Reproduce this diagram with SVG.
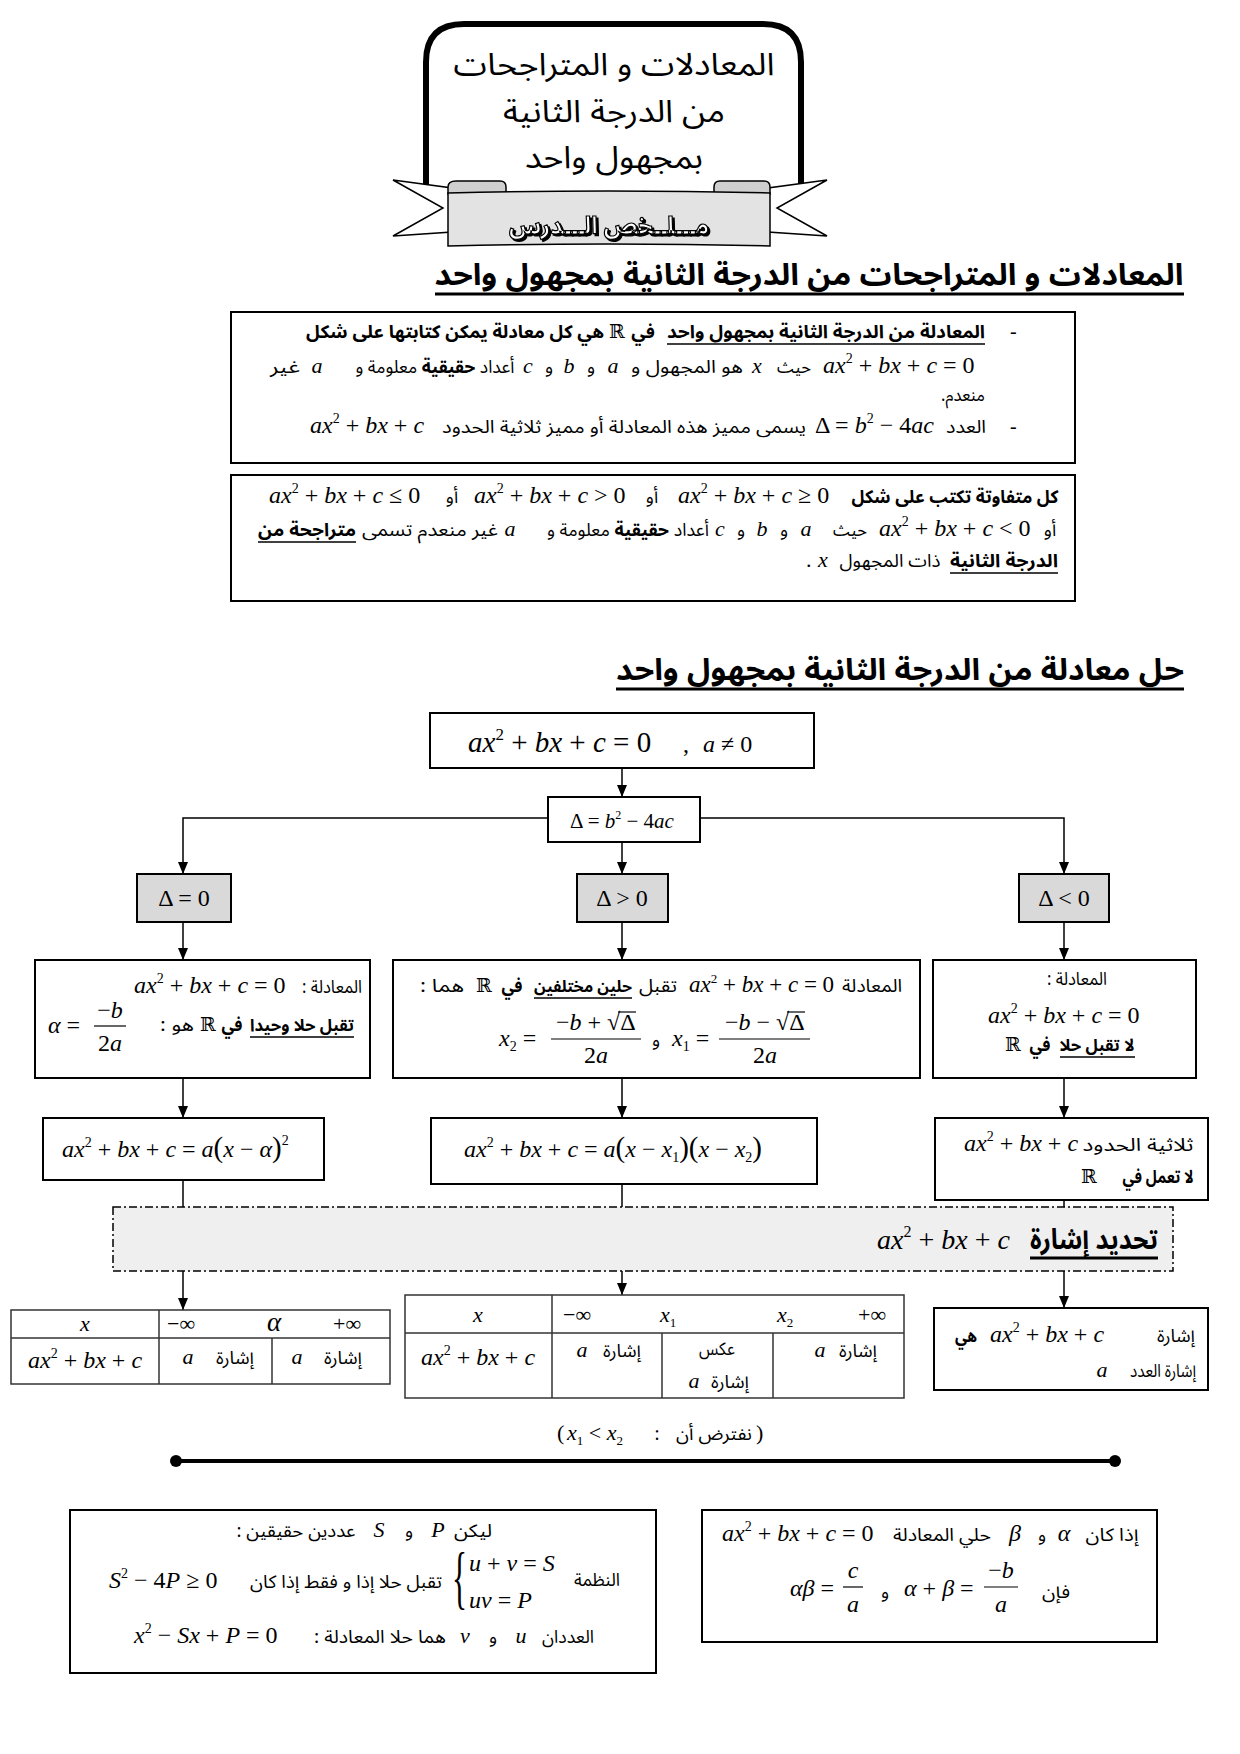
<svg xmlns="http://www.w3.org/2000/svg" width="1240" height="1754" viewBox="0 0 1240 1754">
<defs>
<style>
text{fill:#000}
.ar{font-family:"Noto Sans Arabic","Noto Naskh Arabic","DejaVu Sans",sans-serif;direction:rtl;text-anchor:middle;font-size:18px}
.b{font-weight:bold}
.m{font-family:"Liberation Serif","Times New Roman",serif;font-size:24px}
.i{font-style:italic}
.v{font-family:"Liberation Serif","Times New Roman",serif;font-style:italic;font-size:22px;text-anchor:middle}
.R{font-family:"DejaVu Serif",serif;font-size:19px;text-anchor:middle}
.box{fill:#fff;stroke:#000;stroke-width:2}
.gbox{fill:#d9d9d9;stroke:#000;stroke-width:2}
.tb{fill:#fff;stroke:#333;stroke-width:1.5}
.tl{stroke:#333;stroke-width:1.5}
.c{stroke:#000;stroke-width:1.5;fill:none}
.ul{stroke:#000;stroke-width:1.5}
.fr{stroke:#000;stroke-width:1.2}
</style>
<marker id="ah" viewBox="0 0 12 10" refX="12" refY="5" markerWidth="12" markerHeight="10" markerUnits="userSpaceOnUse" orient="auto"><path d="M0,0 L12,5 L0,10 z" fill="#000"/></marker>
<filter id="shadow" x="-5%" y="-20%" width="110%" height="140%"><feDropShadow dx="2" dy="2" stdDeviation="0" flood-color="#000" flood-opacity="1"/></filter>
</defs>
<rect width="1240" height="1754" fill="#fff"/>

<g id="title">
<path d="M426,192 L426,62 Q426,24 464,24 L763,24 Q801,24 801,62 L801,192" fill="#fff" stroke="#000" stroke-width="6"/>
<text class="ar" x="614" y="75" style="font-size:31px" textLength="321" lengthAdjust="spacingAndGlyphs">المعادلات و المتراجحات</text>
<text class="ar" x="614" y="122" style="font-size:31px" textLength="222" lengthAdjust="spacingAndGlyphs">من الدرجة الثانية</text>
<text class="ar" x="614" y="168" style="font-size:31px" textLength="178" lengthAdjust="spacingAndGlyphs">بمجهول واحد</text>
</g>

<g id="ribbon">
<polygon points="393,180 452,188 452,232 393,236 443,208" fill="#fff" stroke="#000" stroke-width="1.5"/>
<polygon points="827,180 768,188 768,232 827,236 777,208" fill="#fff" stroke="#000" stroke-width="1.5"/>
<path d="M448,194 L448,187 Q448,181 456,181 L500,181 Q506,181 506,187 L506,194 Z" fill="#cfcfcf" stroke="#000" stroke-width="1.5"/>
<path d="M714,194 L714,187 Q714,181 720,181 L764,181 Q770,181 770,187 L770,194 Z" fill="#cfcfcf" stroke="#000" stroke-width="1.5"/>
<path d="M448,193 Q609,189 770,193 L770,246 Q609,242 448,246 Z" fill="#e3e3e3" stroke="#000" stroke-width="1.5"/>
<text class="ar b" x="609" y="234" style="font-size:24px;fill:#fff;stroke:#000;stroke-width:1.2" filter="url(#shadow)" textLength="200" lengthAdjust="spacingAndGlyphs">مـــلــخص الـــدرس</text>
</g>

<g id="heading1">
<text class="ar b" x="809" y="285" style="font-size:30px" textLength="749" lengthAdjust="spacingAndGlyphs">المعادلات و المتراجحات من الدرجة الثانية بمجهول واحد</text>
<line x1="435" y1="294" x2="1184" y2="294" stroke="#000" stroke-width="3"/>
</g>

<g id="definition-equation">
<rect class="box" x="231" y="312" width="844" height="151"/>
<text class="m" x="1010" y="338" style="font-size:20px">-</text>
<text class="ar b" x="826" y="338" textLength="318" lengthAdjust="spacingAndGlyphs">المعادلة من الدرجة الثانية بمجهول واحد</text>
<line class="ul" x1="667" y1="344" x2="985" y2="344"/>
<text class="ar b" x="643" y="338">في</text>
<text class="R" x="617" y="338">ℝ</text>
<text class="ar b" x="455" y="338" textLength="298" lengthAdjust="spacingAndGlyphs">هي كل معادلة يمكن كتابتها على شكل</text>
<text class="m" x="823" y="373"><tspan class="i">ax</tspan><tspan font-size="14" dy="-10">2</tspan><tspan dy="10"> + </tspan><tspan class="i">bx</tspan> + <tspan class="i">c</tspan> = 0</text>
<text class="ar" x="794" y="373" textLength="34" lengthAdjust="spacingAndGlyphs">حيث</text>
<text class="v" x="757" y="373">x</text>
<text class="ar" x="687" y="373" textLength="112" lengthAdjust="spacingAndGlyphs">هو المجهول و</text>
<text class="v" x="613" y="373">a</text>
<text class="ar" x="591" y="373">و</text>
<text class="v" x="569" y="373">b</text>
<text class="ar" x="549" y="373">و</text>
<text class="v" x="528" y="373">c</text>
<text class="ar" x="435" y="373" textLength="159" lengthAdjust="spacingAndGlyphs">أعداد <tspan class="b">حقيقية</tspan> معلومة و</text>
<text class="v" x="317" y="373">a</text>
<text class="ar" x="285" y="373" textLength="30" lengthAdjust="spacingAndGlyphs">غير</text>
<text class="ar" x="963" y="401" textLength="44" lengthAdjust="spacingAndGlyphs">منعدم.</text>
<text class="m" x="1010" y="433" style="font-size:20px">-</text>
<text class="ar" x="966" y="433" textLength="40" lengthAdjust="spacingAndGlyphs">العدد</text>
<text class="m" x="815" y="433">Δ = <tspan class="i">b</tspan><tspan font-size="14" dy="-10">2</tspan><tspan dy="10"> − 4</tspan><tspan class="i">ac</tspan></text>
<text class="ar" x="624" y="433" textLength="364" lengthAdjust="spacingAndGlyphs">يسمى مميز هذه المعادلة أو مميز ثلاثية الحدود</text>
<text class="m" x="310" y="433"><tspan class="i">ax</tspan><tspan font-size="14" dy="-10">2</tspan><tspan dy="10"> + </tspan><tspan class="i">bx</tspan> + <tspan class="i">c</tspan></text>
</g>

<g id="definition-inequation">
<rect class="box" x="231" y="475" width="844" height="126"/>
<text class="ar b" x="955" y="503" textLength="207" lengthAdjust="spacingAndGlyphs">كل متفاوتة تكتب على شكل</text>
<text class="m" x="678" y="503"><tspan class="i">ax</tspan><tspan font-size="14" dy="-10">2</tspan><tspan dy="10"> + </tspan><tspan class="i">bx</tspan> + <tspan class="i">c</tspan> ≥ 0</text>
<text class="ar" x="652" y="503">أو</text>
<text class="m" x="474" y="503"><tspan class="i">ax</tspan><tspan font-size="14" dy="-10">2</tspan><tspan dy="10"> + </tspan><tspan class="i">bx</tspan> + <tspan class="i">c</tspan> &gt; 0</text>
<text class="ar" x="452" y="503">أو</text>
<text class="m" x="269" y="503"><tspan class="i">ax</tspan><tspan font-size="14" dy="-10">2</tspan><tspan dy="10"> + </tspan><tspan class="i">bx</tspan> + <tspan class="i">c</tspan> ≤ 0</text>
<text class="ar" x="1050" y="536">أو</text>
<text class="m" x="879" y="536"><tspan class="i">ax</tspan><tspan font-size="14" dy="-10">2</tspan><tspan dy="10"> + </tspan><tspan class="i">bx</tspan> + <tspan class="i">c</tspan> &lt; 0</text>
<text class="ar" x="850" y="536" textLength="34" lengthAdjust="spacingAndGlyphs">حيث</text>
<text class="v" x="806" y="536">a</text>
<text class="ar" x="784" y="536">و</text>
<text class="v" x="762" y="536">b</text>
<text class="ar" x="741" y="536">و</text>
<text class="v" x="720" y="536">c</text>
<text class="ar" x="628" y="536" textLength="162" lengthAdjust="spacingAndGlyphs">أعداد <tspan class="b">حقيقية</tspan> معلومة و</text>
<text class="v" x="510" y="536">a</text>
<text class="ar" x="430" y="536" textLength="136" lengthAdjust="spacingAndGlyphs">غير منعدم تسمى</text>
<text class="ar b" x="307" y="536" textLength="98" lengthAdjust="spacingAndGlyphs">متراجحة من</text>
<line class="ul" x1="258" y1="542" x2="356" y2="542"/>
<text class="ar b" x="1004" y="567" textLength="108" lengthAdjust="spacingAndGlyphs">الدرجة الثانية</text>
<line class="ul" x1="950" y1="573" x2="1058" y2="573"/>
<text class="ar" x="890" y="567" textLength="101" lengthAdjust="spacingAndGlyphs">ذات المجهول</text>
<text class="v" x="823" y="567">x</text>
<text class="m" x="806" y="567" style="font-size:22px">.</text>
</g>

<g id="heading2">
<text class="ar b" x="900" y="680" style="font-size:30px" textLength="568" lengthAdjust="spacingAndGlyphs">حل معادلة من الدرجة الثانية بمجهول واحد</text>
<line x1="616" y1="689" x2="1184" y2="689" stroke="#000" stroke-width="3"/>
</g>

<g id="connectors" class="c">
<path d="M622,768 V797" marker-end="url(#ah)"/>
<path d="M548,818 H183 V874" marker-end="url(#ah)"/>
<path d="M700,818 H1064 V874" marker-end="url(#ah)"/>
<path d="M622,842 V874" marker-end="url(#ah)"/>
<path d="M183,922 V960" marker-end="url(#ah)"/>
<path d="M622,922 V960" marker-end="url(#ah)"/>
<path d="M1064,922 V960" marker-end="url(#ah)"/>
<path d="M183,1078 V1118" marker-end="url(#ah)"/>
<path d="M622,1078 V1118" marker-end="url(#ah)"/>
<path d="M1064,1078 V1118" marker-end="url(#ah)"/>
<path d="M183,1180 V1207"/>
<path d="M622,1184 V1207"/>
<path d="M1064,1200 V1207"/>
<path d="M183,1271 V1310" marker-end="url(#ah)"/>
<path d="M622,1271 V1295" marker-end="url(#ah)"/>
<path d="M1064,1271 V1308" marker-end="url(#ah)"/>
</g>

<g id="equation">
<rect class="box" x="430" y="713" width="384" height="55"/>
<text class="m" x="468" y="752" style="font-size:29px"><tspan class="i">ax</tspan><tspan font-size="17" dy="-12">2</tspan><tspan dy="12"> + </tspan><tspan class="i">bx</tspan> + <tspan class="i">c</tspan> = 0</text>
<text class="m" x="683" y="752">,</text>
<text class="m" x="703" y="752"><tspan class="i">a</tspan> ≠ 0</text>
</g>

<g id="discriminant">
<rect class="box" x="548" y="797" width="152" height="45"/>
<text class="m" x="622" y="828" style="font-size:21px;text-anchor:middle">Δ = <tspan class="i">b</tspan><tspan font-size="12" dy="-9">2</tspan><tspan dy="9"> − 4</tspan><tspan class="i">ac</tspan></text>
</g>

<g id="delta-zero">
<rect class="gbox" x="137" y="874" width="94" height="48"/>
<text class="m" x="184" y="906" text-anchor="middle">Δ = 0</text>
</g>
<g id="delta-positive">
<rect class="gbox" x="577" y="874" width="91" height="48"/>
<text class="m" x="622" y="906" text-anchor="middle">Δ &gt; 0</text>
</g>
<g id="delta-negative">
<rect class="gbox" x="1019" y="874" width="90" height="48"/>
<text class="m" x="1064" y="906" text-anchor="middle">Δ &lt; 0</text>
</g>

<g id="one-root">
<rect class="box" x="35" y="960" width="335" height="118"/>
<text class="ar" x="332" y="993" textLength="60" lengthAdjust="spacingAndGlyphs">المعادلة :</text>
<text class="m" x="134" y="993"><tspan class="i">ax</tspan><tspan font-size="14" dy="-10">2</tspan><tspan dy="10"> + </tspan><tspan class="i">bx</tspan> + <tspan class="i">c</tspan> = 0</text>
<text class="ar b" x="302" y="1031" style="font-size:17px" textLength="104" lengthAdjust="spacingAndGlyphs">تقبل حلا وحيدا</text>
<line class="ul" x1="250" y1="1037" x2="354" y2="1037"/>
<text class="ar b" x="232" y="1031" textLength="21" lengthAdjust="spacingAndGlyphs">في</text>
<text class="R" x="208" y="1031">ℝ</text>
<text class="ar" x="177" y="1031" textLength="34" lengthAdjust="spacingAndGlyphs">هو :</text>
<text class="m" x="48" y="1033"><tspan class="i">α</tspan> =</text>
<text class="m" x="110" y="1018" text-anchor="middle">−<tspan class="i">b</tspan></text>
<line class="fr" x1="94" y1="1026" x2="126" y2="1026"/>
<text class="m" x="110" y="1051" text-anchor="middle">2<tspan class="i">a</tspan></text>
</g>

<g id="two-roots">
<rect class="box" x="393" y="960" width="527" height="118"/>
<text class="ar" x="872" y="992" textLength="60" lengthAdjust="spacingAndGlyphs">المعادلة</text>
<text class="m" x="689" y="992" style="font-size:23px"><tspan class="i">ax</tspan><tspan font-size="13" dy="-9">2</tspan><tspan dy="9"> + </tspan><tspan class="i">bx</tspan> + <tspan class="i">c</tspan> = 0</text>
<text class="ar" x="658" y="992" textLength="38" lengthAdjust="spacingAndGlyphs">تقبل</text>
<text class="ar b" x="583" y="992" style="font-size:16px" textLength="98" lengthAdjust="spacingAndGlyphs">حلين مختلفين</text>
<line class="ul" x1="534" y1="998" x2="632" y2="998"/>
<text class="ar b" x="512" y="992" textLength="21" lengthAdjust="spacingAndGlyphs">في</text>
<text class="R" x="484" y="992">ℝ</text>
<text class="ar" x="442" y="992" textLength="44" lengthAdjust="spacingAndGlyphs">هما :</text>
<text class="m" x="499" y="1046"><tspan class="i">x</tspan><tspan font-size="14" dy="5">2</tspan><tspan dy="-5"> =</tspan></text>
<text class="m" x="556" y="1030">−<tspan class="i">b</tspan> + √Δ</text>
<line class="fr" x1="618" y1="1012" x2="636" y2="1012"/>
<line class="fr" x1="551" y1="1039" x2="641" y2="1039"/>
<text class="m" x="596" y="1063" text-anchor="middle">2<tspan class="i">a</tspan></text>
<text class="ar" x="656" y="1046">و</text>
<text class="m" x="672" y="1046"><tspan class="i">x</tspan><tspan font-size="14" dy="5">1</tspan><tspan dy="-5"> =</tspan></text>
<text class="m" x="725" y="1030">−<tspan class="i">b</tspan> − √Δ</text>
<line class="fr" x1="787" y1="1012" x2="805" y2="1012"/>
<line class="fr" x1="719" y1="1039" x2="810" y2="1039"/>
<text class="m" x="765" y="1063" text-anchor="middle">2<tspan class="i">a</tspan></text>
</g>

<g id="no-root">
<rect class="box" x="933" y="960" width="263" height="118"/>
<text class="ar" x="1077" y="985" textLength="60" lengthAdjust="spacingAndGlyphs">المعادلة :</text>
<text class="m" x="988" y="1023"><tspan class="i">ax</tspan><tspan font-size="14" dy="-10">2</tspan><tspan dy="10"> + </tspan><tspan class="i">bx</tspan> + <tspan class="i">c</tspan> = 0</text>
<text class="ar b" x="1097" y="1051" style="font-size:17px" textLength="75" lengthAdjust="spacingAndGlyphs">لا تقبل حلا</text>
<line class="ul" x1="1060" y1="1057" x2="1135" y2="1057"/>
<text class="ar b" x="1040" y="1051" textLength="21" lengthAdjust="spacingAndGlyphs">في</text>
<text class="R" x="1013" y="1051">ℝ</text>
</g>

<g id="factor-one">
<rect class="box" x="43" y="1118" width="281" height="62"/>
<text class="m" x="62" y="1157"><tspan class="i">ax</tspan><tspan font-size="14" dy="-10">2</tspan><tspan dy="10"> + </tspan><tspan class="i">bx</tspan> + <tspan class="i">c</tspan> = <tspan class="i">a</tspan><tspan font-size="29">(</tspan><tspan class="i">x</tspan> − <tspan class="i">α</tspan><tspan font-size="29">)</tspan><tspan font-size="14" dy="-12">2</tspan></text>
</g>

<g id="factor-two">
<rect class="box" x="431" y="1118" width="386" height="66"/>
<text class="m" x="464" y="1157"><tspan class="i">ax</tspan><tspan font-size="14" dy="-10">2</tspan><tspan dy="10"> + </tspan><tspan class="i">bx</tspan> + <tspan class="i">c</tspan> = <tspan class="i">a</tspan><tspan font-size="29">(</tspan><tspan class="i">x</tspan> − <tspan class="i">x</tspan><tspan font-size="14" dy="5">1</tspan><tspan dy="-5" font-size="29">)(</tspan><tspan class="i">x</tspan> − <tspan class="i">x</tspan><tspan font-size="14" dy="5">2</tspan><tspan dy="-5" font-size="29">)</tspan></text>
</g>

<g id="no-factor">
<rect class="box" x="935" y="1118" width="273" height="82"/>
<text class="ar" x="1138" y="1151" textLength="111" lengthAdjust="spacingAndGlyphs">ثلاثية الحدود</text>
<text class="m" x="964" y="1151"><tspan class="i">ax</tspan><tspan font-size="14" dy="-10">2</tspan><tspan dy="10"> + </tspan><tspan class="i">bx</tspan> + <tspan class="i">c</tspan></text>
<text class="ar b" x="1158" y="1183" textLength="71" lengthAdjust="spacingAndGlyphs">لا تعمل في</text>
<text class="R" x="1089" y="1183">ℝ</text>
</g>

<g id="sign-header">
<rect x="113" y="1207" width="1060" height="64" fill="#efefef" stroke="#000" stroke-width="1.5" stroke-dasharray="8 3 2 3"/>
<text class="ar b" x="1094" y="1249" style="font-size:28px" textLength="128" lengthAdjust="spacingAndGlyphs">تحديد إشارة</text>
<line x1="1030" y1="1258" x2="1158" y2="1258" stroke="#000" stroke-width="3"/>
<text class="m" x="877" y="1249" style="font-size:28px"><tspan class="i">ax</tspan><tspan font-size="16" dy="-12">2</tspan><tspan dy="12"> + </tspan><tspan class="i">bx</tspan> + <tspan class="i">c</tspan></text>
</g>

<g id="sign-table-one">
<rect class="tb" x="11" y="1310" width="379" height="74"/>
<line class="tl" x1="11" y1="1338" x2="390" y2="1338"/>
<line class="tl" x1="159" y1="1310" x2="159" y2="1384"/>
<line class="tl" x1="272" y1="1338" x2="272" y2="1384"/>
<text class="v" x="85" y="1331">x</text>
<text class="m" x="167" y="1331" style="font-size:22px">−∞</text>
<text class="v" x="274" y="1331" style="font-size:27px">α</text>
<text class="m" x="333" y="1331" style="font-size:22px">+∞</text>
<text class="m" x="85" y="1368" text-anchor="middle"><tspan class="i">ax</tspan><tspan font-size="14" dy="-10">2</tspan><tspan dy="10"> + </tspan><tspan class="i">bx</tspan> + <tspan class="i">c</tspan></text>
<text class="v" x="188" y="1364">a</text>
<text class="ar" x="235" y="1364" textLength="38" lengthAdjust="spacingAndGlyphs">إشارة</text>
<text class="v" x="297" y="1364">a</text>
<text class="ar" x="343" y="1364" textLength="38" lengthAdjust="spacingAndGlyphs">إشارة</text>
</g>

<g id="sign-table-two">
<rect class="tb" x="405" y="1295" width="499" height="103"/>
<line class="tl" x1="405" y1="1333" x2="904" y2="1333"/>
<line class="tl" x1="552" y1="1295" x2="552" y2="1398"/>
<line class="tl" x1="662" y1="1333" x2="662" y2="1398"/>
<line class="tl" x1="773" y1="1333" x2="773" y2="1398"/>
<text class="v" x="478" y="1322">x</text>
<text class="m" x="563" y="1322" style="font-size:22px">−∞</text>
<text class="m" x="660" y="1322" style="font-size:22px"><tspan class="i">x</tspan><tspan font-size="13" dy="5">1</tspan></text>
<text class="m" x="777" y="1322" style="font-size:22px"><tspan class="i">x</tspan><tspan font-size="13" dy="5">2</tspan></text>
<text class="m" x="858" y="1322" style="font-size:22px">+∞</text>
<text class="m" x="478" y="1365" text-anchor="middle"><tspan class="i">ax</tspan><tspan font-size="14" dy="-10">2</tspan><tspan dy="10"> + </tspan><tspan class="i">bx</tspan> + <tspan class="i">c</tspan></text>
<text class="v" x="582" y="1357">a</text>
<text class="ar" x="622" y="1357" textLength="38" lengthAdjust="spacingAndGlyphs">إشارة</text>
<text class="ar" x="717" y="1355" textLength="36" lengthAdjust="spacingAndGlyphs">عكس</text>
<text class="v" x="694" y="1388">a</text>
<text class="ar" x="730" y="1388" textLength="38" lengthAdjust="spacingAndGlyphs">إشارة</text>
<text class="v" x="820" y="1357">a</text>
<text class="ar" x="858" y="1357" textLength="38" lengthAdjust="spacingAndGlyphs">إشارة</text>
</g>

<g id="sign-no-root">
<rect class="box" x="934" y="1308" width="274" height="82"/>
<text class="ar" x="1176" y="1342" textLength="38" lengthAdjust="spacingAndGlyphs">إشارة</text>
<text class="m" x="990" y="1342"><tspan class="i">ax</tspan><tspan font-size="14" dy="-10">2</tspan><tspan dy="10"> + </tspan><tspan class="i">bx</tspan> + <tspan class="i">c</tspan></text>
<text class="ar b" x="966" y="1342" textLength="22" lengthAdjust="spacingAndGlyphs">هي</text>
<text class="ar" x="1163" y="1377" textLength="66" lengthAdjust="spacingAndGlyphs">إشارة العدد</text>
<text class="v" x="1102" y="1377">a</text>
</g>

<g id="assumption">
<text class="m" x="557" y="1440" style="font-size:22px">(</text>
<text class="m" x="567" y="1440" style="font-size:22px"><tspan class="i">x</tspan><tspan font-size="13" dy="5">1</tspan><tspan dy="-5"> &lt; </tspan><tspan class="i">x</tspan><tspan font-size="13" dy="5">2</tspan></text>
<text class="m" x="657" y="1440" style="font-size:20px;text-anchor:middle">:</text>
<text class="ar" x="714" y="1440" textLength="76" lengthAdjust="spacingAndGlyphs">نفترض أن</text>
<text class="m" x="756" y="1440" style="font-size:22px">)</text>
</g>

<g id="separator">
<line x1="176" y1="1461" x2="1115" y2="1461" stroke="#000" stroke-width="4"/>
<circle cx="176" cy="1461" r="6" fill="#000"/>
<circle cx="1115" cy="1461" r="6" fill="#000"/>
</g>

<g id="sum-product-system">
<rect class="box" x="70" y="1510" width="586" height="163"/>
<text class="ar" x="473" y="1537" textLength="38" lengthAdjust="spacingAndGlyphs">ليكن</text>
<text class="v" x="438" y="1537">P</text>
<text class="ar" x="409" y="1537">و</text>
<text class="v" x="379" y="1537">S</text>
<text class="ar" x="296" y="1537" textLength="119" lengthAdjust="spacingAndGlyphs">عددين حقيقين :</text>
<text class="ar" x="597" y="1586" textLength="46" lengthAdjust="spacingAndGlyphs">النظمة</text>
<text class="m" x="0" y="0" style="font-size:70px" transform="translate(452,1601) scale(0.45,1)">{</text>
<text class="m" x="469" y="1571"><tspan class="i">u</tspan> + <tspan class="i">v</tspan> = <tspan class="i">S</tspan></text>
<text class="m" x="469" y="1608"><tspan class="i">uv</tspan> = <tspan class="i">P</tspan></text>
<text class="ar" x="346" y="1588" textLength="192" lengthAdjust="spacingAndGlyphs">تقبل حلا إذا و فقط إذا كان</text>
<text class="m" x="109" y="1588"><tspan class="i">S</tspan><tspan font-size="14" dy="-10">2</tspan><tspan dy="10"> − 4</tspan><tspan class="i">P</tspan> ≥ 0</text>
<text class="ar" x="568" y="1643" textLength="52" lengthAdjust="spacingAndGlyphs">العددان</text>
<text class="v" x="521" y="1643">u</text>
<text class="ar" x="493" y="1643">و</text>
<text class="v" x="465" y="1643">v</text>
<text class="ar" x="380" y="1643" textLength="132" lengthAdjust="spacingAndGlyphs">هما حلا المعادلة :</text>
<text class="m" x="134" y="1643"><tspan class="i">x</tspan><tspan font-size="14" dy="-10">2</tspan><tspan dy="10"> − </tspan><tspan class="i">Sx</tspan> + <tspan class="i">P</tspan> = 0</text>
</g>

<g id="vieta">
<rect class="box" x="702" y="1510" width="455" height="132"/>
<text class="ar" x="1112" y="1541" textLength="53" lengthAdjust="spacingAndGlyphs">إذا كان</text>
<text class="v" x="1064" y="1541" style="font-size:24px">α</text>
<text class="ar" x="1042" y="1541">و</text>
<text class="v" x="1015" y="1541" style="font-size:24px">β</text>
<text class="ar" x="942" y="1541" textLength="98" lengthAdjust="spacingAndGlyphs">حلي المعادلة</text>
<text class="m" x="722" y="1541"><tspan class="i">ax</tspan><tspan font-size="14" dy="-10">2</tspan><tspan dy="10"> + </tspan><tspan class="i">bx</tspan> + <tspan class="i">c</tspan> = 0</text>
<text class="ar" x="1056" y="1598" textLength="28" lengthAdjust="spacingAndGlyphs">فإن</text>
<text class="m" x="904" y="1596"><tspan class="i">α</tspan> + <tspan class="i">β</tspan> =</text>
<text class="m" x="1001" y="1578" text-anchor="middle">−<tspan class="i">b</tspan></text>
<line class="fr" x1="984" y1="1587" x2="1018" y2="1587"/>
<text class="m" x="1001" y="1612" text-anchor="middle"><tspan class="i">a</tspan></text>
<text class="ar" x="885" y="1598">و</text>
<text class="m" x="790" y="1596"><tspan class="i">αβ</tspan> =</text>
<text class="m" x="853" y="1578" text-anchor="middle"><tspan class="i">c</tspan></text>
<line class="fr" x1="843" y1="1587" x2="863" y2="1587"/>
<text class="m" x="853" y="1612" text-anchor="middle"><tspan class="i">a</tspan></text>
</g>
</svg>
